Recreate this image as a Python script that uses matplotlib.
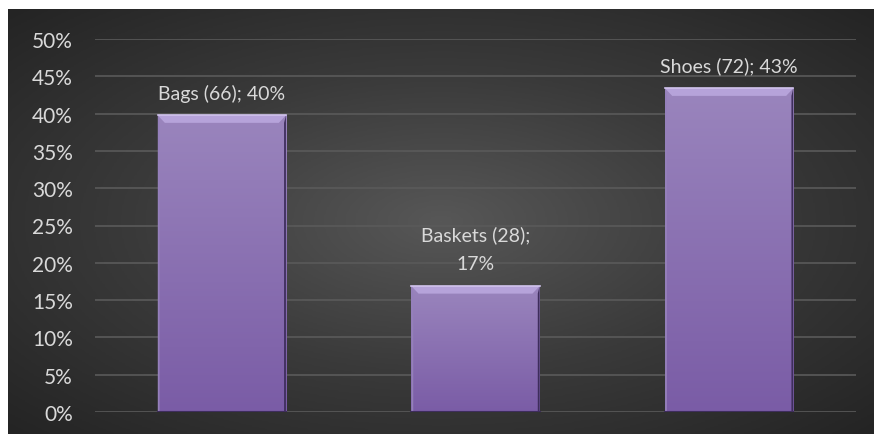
import numpy as np
import matplotlib.pyplot as plt
from matplotlib.colors import LinearSegmentedColormap

# Data
categories = ['Bags', 'Baskets', 'Shoes']
counts = [66, 28, 72]
label_texts = ['Bags (66); 40%', 'Baskets (28);\n17%', 'Shoes (72); 43%']
yticks = [0, 0.05, 0.10, 0.15, 0.20, 0.25, 0.30, 0.35, 0.40, 0.45, 0.50]

total = sum(counts)
shares = [c / total for c in counts]

plt.rcParams['font.family'] = ['Lato', 'DejaVu Sans']
TEXT = '#d9d9d9'

fig = plt.figure(figsize=(8.74, 4.35), dpi=100)
fig.patch.set_facecolor('white')

# radial gradient background
bg = fig.add_axes([8 / 874, 0, 866 / 874, 425 / 435])
bg.set_axis_off()
yy, xx = np.mgrid[-1:1:300j, -1:1:600j]
r = np.sqrt(xx ** 2 + yy ** 2) / np.sqrt(2)
bg_cmap = LinearSegmentedColormap.from_list('bg', ['#575757', '#3a3a3a', '#242424'])
bg.imshow(r, cmap=bg_cmap, aspect='auto', extent=[0, 1, 0, 1], vmin=0, vmax=1)
bg.set_xlim(0, 1)
bg.set_ylim(0, 1)

ax = fig.add_axes([95 / 874, 22 / 435, 761 / 874, 373 / 435])
ax.patch.set_alpha(0)
ax.set_ylim(0, 0.5)
ax.set_xlim(-0.5, 2.5)

for y in yticks:
    ax.axhline(y, color='#5a5a5a', lw=1.2, zorder=0)

x = np.arange(len(categories))
bar_cmap = LinearSegmentedColormap.from_list('bar', ['#7a5ca6', '#9a85bd'])
bars = ax.bar(x, shares, width=0.505, color='#8a70b2', edgecolor='none', zorder=2)

grad = np.linspace(0, 1, 256).reshape(-1, 1)
for b in bars:
    x0, w, h = b.get_x(), b.get_width(), b.get_height()
    im = ax.imshow(grad, cmap=bar_cmap, origin='lower', aspect='auto',
                   extent=[x0, x0 + w, 0, h], zorder=3)
    im.set_clip_path(b)
    # bevel highlights
    t = 0.01
    dx = 0.028
    ax.fill([x0, x0 + w, x0 + w - dx, x0 + dx], [h, h, h - t, h - t],
            color='#b6a3da', zorder=4, lw=0)
    ax.plot([x0, x0 + w], [h, h], color='#d2c4ee', lw=1.2, zorder=5)
    ax.fill([x0 + w, x0 + w, x0 + w - dx * 0.25, x0 + w - dx * 0.25], [0, h, h - t, 0],
            color='#3e2d5c', zorder=4, lw=0)
    ax.fill([x0, x0, x0 + dx * 0.25, x0 + dx * 0.25], [0, h, h - t, 0],
            color='#9580bb', zorder=4, lw=0)
    ax.plot([x0, x0 + w], [0, 0], color='#3e2d5c', lw=1.5, zorder=4)

for xi, s, lab in zip(x, shares, label_texts):
    ax.annotate(lab, (xi, s), xytext=(0, 10), textcoords='offset points',
                ha='center', va='bottom', color=TEXT, fontsize=14, linespacing=1.85)

ax.set_xticks([])
ax.set_yticks(yticks)
ax.set_yticklabels([f'{int(round(v * 100))}%' for v in yticks], color=TEXT, fontsize=15)
ax.tick_params(axis='y', length=0, pad=16)
for sp in ax.spines.values():
    sp.set_visible(False)

fig.savefig('out.png', dpi=100)
